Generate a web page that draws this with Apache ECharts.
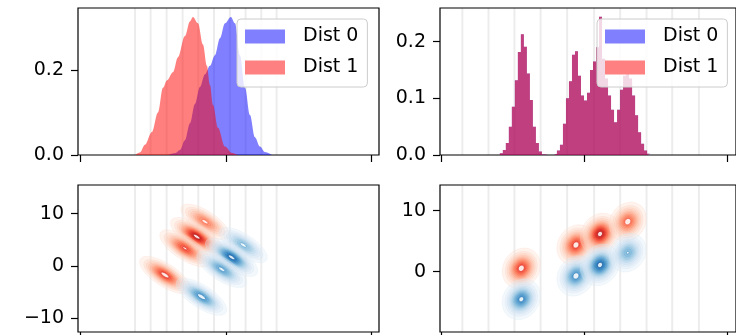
<!DOCTYPE html>
<html>
<head>
<meta charset="utf-8">
<script src="https://cdn.jsdelivr.net/npm/echarts@6/dist/echarts.min.js"></script>
<style>
  html, body { margin: 0; padding: 0; background: #fff; }
  #chart { width: 736px; height: 335px; }
</style>
</head>
<body>
<div id="chart"></div>
<script>
// tick values
const xTicks = [-10, 0, 10];
const yTicksKde = [0, 0.2];
const yTicksHist = [0, 0.1, 0.2];
const yTicksDensityLeft = [-10, 0, 10];
const yTicksDensityRight = [0, 10];

// faint vertical marker lines
const markersLeft = [-6.25, -5.18, -4.08, -2.98, -1.90, -0.82, 0.27, 1.35, 2.43, 3.48];
const markersRight = [-8.54, -6.71, -4.90, -3.07, -1.22, 0.67, 2.49, 4.33, 6.12, 7.99];

// top-left: kde curves [x, density]
const kdeDist0 = [[-3.99, 0], [-3.51, 0.004], [-3.16, 0.012], [-2.82, 0.035], [-2.47, 0.075],
  [-2.13, 0.12], [-1.79, 0.16], [-1.44, 0.19], [-1.10, 0.21], [-0.76, 0.235], [-0.41, 0.275],
  [-0.07, 0.31], [0.34, 0.325], [0.62, 0.31], [0.96, 0.235], [1.31, 0.158], [1.65, 0.094],
  [1.99, 0.042], [2.34, 0.02], [2.68, 0.007], [3.16, 0]];
const kdeDist1 = [[-6.25, 0], [-5.91, 0.006], [-5.57, 0.024], [-5.09, 0.054], [-4.67, 0.1],
  [-4.33, 0.158], [-4.05, 0.176], [-3.64, 0.195], [-3.30, 0.23], [-2.82, 0.28], [-2.47, 0.315],
  [-2.27, 0.325], [-1.92, 0.31], [-1.58, 0.26], [-1.31, 0.21], [-1.10, 0.165], [-0.89, 0.118],
  [-0.55, 0.064], [-0.07, 0.02], [0.41, 0.005], [0.82, 0]];

// top-right: histogram, 50 bins
const histStart = -5.92;
const histBinWidth = 0.21;
const histDist0 = [0.003, 0.009, 0.021, 0.05, 0.085, 0.132, 0.182, 0.213, 0.191, 0.144,
  0.097, 0.05, 0.021, 0.006, 0.001, 0, 0, 0, 0.002, 0.008,
  0.018, 0.055, 0.1, 0.13, 0.177, 0.183, 0.14, 0.105, 0.096, 0.11,
  0.15, 0.165, 0.19, 0.244, 0.17, 0.135, 0.105, 0.08, 0.058, 0.08,
  0.115, 0.14, 0.15, 0.135, 0.105, 0.07, 0.04, 0.02, 0.008, 0.002];
const histDist1 = [0.003, 0.009, 0.021, 0.05, 0.085, 0.132, 0.182, 0.213, 0.191, 0.144,
  0.097, 0.05, 0.021, 0.006, 0.001, 0, 0, 0, 0.002, 0.008,
  0.018, 0.055, 0.1, 0.13, 0.177, 0.183, 0.14, 0.105, 0.096, 0.11,
  0.15, 0.165, 0.19, 0.244, 0.17, 0.135, 0.105, 0.08, 0.058, 0.08,
  0.115, 0.14, 0.15, 0.135, 0.105, 0.07, 0.04, 0.02, 0.008, 0.002];

// bottom: 2d density peaks [x, y, relative peak]
const blobsLeftDist0 = [[1.19, 4.01, 0.55], [0.39, 1.66, 1.0], [-0.29, -0.63, 0.7], [-1.68, -5.86, 0.8]];
const blobsLeftDist1 = [[-1.44, 8.46, 0.55], [-2.01, 5.6, 1.0], [-2.82, 3.38, 0.75], [-4.19, -1.72, 0.8]];
const blobsRightDist0 = [[-4.42, -4.52, 0.85], [-0.60, -0.70, 0.8], [1.08, 1.10, 1.0], [3.02, 3.11, 0.6]];
const blobsRightDist1 = [[-4.42, 0.56, 0.8], [-0.60, 4.38, 0.8], [1.08, 6.18, 1.0], [3.02, 8.2, 0.65]];

const REDS = ['#fff5f0', '#fee0d2', '#fcbba1', '#fc9272', '#fb6a4a', '#ef3b2c', '#cb181d', '#a50f15', '#67000d'];
const BLUES = ['#f7fbff', '#deebf7', '#c6dbef', '#9ecae1', '#6baed6', '#4292c6', '#2171b5', '#08519c', '#08306b'];
const contourLevels = [0.02, 0.06, 0.11, 0.17, 0.24, 0.31, 0.38, 0.45, 0.52, 0.59, 0.66, 0.73, 0.8, 0.87, 0.94];

const FONT = 'DejaVu Sans';

function cmapColor(stops, t) {
  t = Math.max(0, Math.min(1, t));
  const p = t * (stops.length - 1);
  const i = Math.min(stops.length - 2, Math.floor(p));
  const f = p - i;
  const a = stops[i], b = stops[i + 1];
  const ch = (s, k) => parseInt(s.slice(1 + 2 * k, 3 + 2 * k), 16);
  const c = [0, 1, 2].map(k => Math.round(ch(a, k) + (ch(b, k) - ch(a, k)) * f));
  return 'rgb(' + c.join(',') + ')';
}

function ellipsePts(c, a, b, ang) {
  const pts = [];
  const ca = Math.cos(ang), sa = Math.sin(ang);
  for (let k = 0; k < 48; k++) {
    const phi = k / 48 * Math.PI * 2;
    const u = a * Math.cos(phi), v = b * Math.sin(phi);
    pts.push([c[0] + u * ca - v * sa, c[1] + u * sa + v * ca]);
  }
  return pts;
}

function markerSeries(idx, values) {
  return {
    type: 'custom', xAxisIndex: idx, yAxisIndex: idx, z: 1, silent: true,
    data: values.map(v => [v, 0]),
    renderItem(params, api) {
      const x = api.coord([api.value(0), 0])[0];
      const cs = params.coordSys;
      return {
        type: 'line',
        shape: { x1: x, y1: cs.y, x2: x, y2: cs.y + cs.height },
        style: { stroke: 'rgba(0,0,0,0.075)', lineWidth: 2 }
      };
    }
  };
}

function blobSeries(idx, name, data, stops, shape) {
  return {
    type: 'custom', name: name, xAxisIndex: idx, yAxisIndex: idx, z: 3, silent: true, clip: true,
    data: data,
    renderItem(params, api) {
      const c = api.coord([api.value(0), api.value(1)]);
      const peak = api.value(2);
      const levels = contourLevels.filter(l => l < peak);
      const children = [];
      levels.forEach((l, k) => {
        const r = Math.sqrt(2 * Math.log(peak / l));
        const col = cmapColor(stops, 0.14 + 0.74 * l);
        const inner = k === levels.length - 1;
        children.push({
          type: 'polygon',
          shape: { points: ellipsePts(c, r * shape.a, r * shape.b, shape.angle) },
          style: {
            fill: inner ? 'rgba(255,255,255,0.85)' : col,
            opacity: inner ? 1 : 0.3,
            stroke: col, lineWidth: 0.9
          }
        });
      });
      return { type: 'group', children: children };
    }
  };
}

function histPoints(heights) {
  const pts = heights.map((h, i) => [histStart + i * histBinWidth, h]);
  pts.push([histStart + heights.length * histBinWidth, 0]);
  return pts;
}

const tickStyle = { color: '#000', width: 1.2 };

function xAxisFor(idx, min, max) {
  return {
    type: 'value', gridIndex: idx, min: min, max: max,
    axisLine: { show: false, onZero: false },
    splitLine: { show: false },
    axisLabel: { show: false },
    axisTick: { show: true, length: 7, lineStyle: tickStyle, customValues: xTicks }
  };
}

function yAxisFor(idx, min, max, ticks, fmt) {
  return {
    type: 'value', gridIndex: idx, min: min, max: max,
    axisLine: { show: false, onZero: false },
    splitLine: { show: false },
    axisTick: { show: true, length: 7, lineStyle: tickStyle, customValues: ticks },
    axisLabel: { customValues: ticks, formatter: fmt, color: '#000', fontSize: 19, fontFamily: FONT, margin: 14 }
  };
}

const fmtDec = v => v.toFixed(1);
const fmtInt = v => String(v).replace('-', '\u2212');

const legendItems = [
  { name: 'Dist 0', icon: 'rect', itemStyle: { color: '#8080ff', opacity: 1 } },
  { name: 'Dist 1', icon: 'rect', itemStyle: { color: '#ff8080', opacity: 1 } }
];

function legendAt(left) {
  return {
    data: legendItems, left: left, top: 19, orient: 'vertical',
    backgroundColor: 'rgba(255,255,255,0.8)', borderColor: '#cccccc', borderWidth: 1, borderRadius: 4,
    padding: [8, 9, 10, 8], itemWidth: 40, itemHeight: 14, itemGap: 12,
    selectedMode: false,
    textStyle: { fontSize: 19, color: '#000', fontFamily: FONT, padding: [0, 0, 0, 13] }
  };
}

const gridBase = { show: true, borderColor: '#000', borderWidth: 1.2, backgroundColor: 'transparent' };

const chart = echarts.init(document.getElementById('chart'));
chart.setOption({
  animation: false,
  textStyle: { fontFamily: FONT },
  grid: [
    Object.assign({ left: 78, top: 8, width: 301, height: 147 }, gridBase),
    Object.assign({ left: 440, top: 8, width: 301, height: 147 }, gridBase),
    Object.assign({ left: 78, top: 185, width: 301, height: 147 }, gridBase),
    Object.assign({ left: 440, top: 185, width: 301, height: 147 }, gridBase)
  ],
  xAxis: [
    xAxisFor(0, -10.17, 10.52),
    xAxisFor(1, -10.10, 10.58),
    xAxisFor(2, -10.17, 10.52),
    xAxisFor(3, -10.10, 10.58)
  ],
  yAxis: [
    yAxisFor(0, 0, 0.346, yTicksKde, fmtDec),
    yAxisFor(1, 0, 0.2595, yTicksHist, fmtDec),
    yAxisFor(2, -12.6, 15.47, yTicksDensityLeft, fmtInt),
    yAxisFor(3, -9.89, 14.21, yTicksDensityRight, fmtInt)
  ],
  legend: [legendAt(237), legendAt(597)],
  series: [
    markerSeries(0, markersLeft),
    {
      type: 'line', name: 'Dist 0', xAxisIndex: 0, yAxisIndex: 0, z: 2,
      data: kdeDist0, smooth: 0.35, smoothMonotone: 'x', showSymbol: false, color: '#0000ff',
      lineStyle: { width: 0, opacity: 0 }, areaStyle: { color: '#0000ff', opacity: 0.5 }
    },
    {
      type: 'line', name: 'Dist 1', xAxisIndex: 0, yAxisIndex: 0, z: 2,
      data: kdeDist1, smooth: 0.35, smoothMonotone: 'x', showSymbol: false, color: '#ff0000',
      lineStyle: { width: 0, opacity: 0 }, areaStyle: { color: '#ff0000', opacity: 0.5 }
    },
    markerSeries(1, markersRight),
    {
      type: 'line', name: 'Dist 0', xAxisIndex: 1, yAxisIndex: 1, z: 2,
      data: histPoints(histDist0), step: 'end', showSymbol: false, color: '#0000ff',
      lineStyle: { width: 0, opacity: 0 }, areaStyle: { color: '#0000ff', opacity: 0.5 }
    },
    {
      type: 'line', name: 'Dist 1', xAxisIndex: 1, yAxisIndex: 1, z: 2,
      data: histPoints(histDist1), step: 'end', showSymbol: false, color: '#ff0000',
      lineStyle: { width: 0, opacity: 0 }, areaStyle: { color: '#ff0000', opacity: 0.5 }
    },
    markerSeries(2, markersLeft),
    blobSeries(2, 'Dist 1 density', blobsLeftDist1, REDS, { a: 10.8, b: 4.2, angle: 33 * Math.PI / 180 }),
    blobSeries(2, 'Dist 0 density', blobsLeftDist0, BLUES, { a: 10.8, b: 4.2, angle: 33 * Math.PI / 180 }),
    markerSeries(3, markersRight),
    blobSeries(3, 'Dist 1 density', blobsRightDist1, REDS, { a: 7.8, b: 6.6, angle: -55 * Math.PI / 180 }),
    blobSeries(3, 'Dist 0 density', blobsRightDist0, BLUES, { a: 7.8, b: 6.6, angle: -55 * Math.PI / 180 })
  ]
});
</script>
</body>
</html>
